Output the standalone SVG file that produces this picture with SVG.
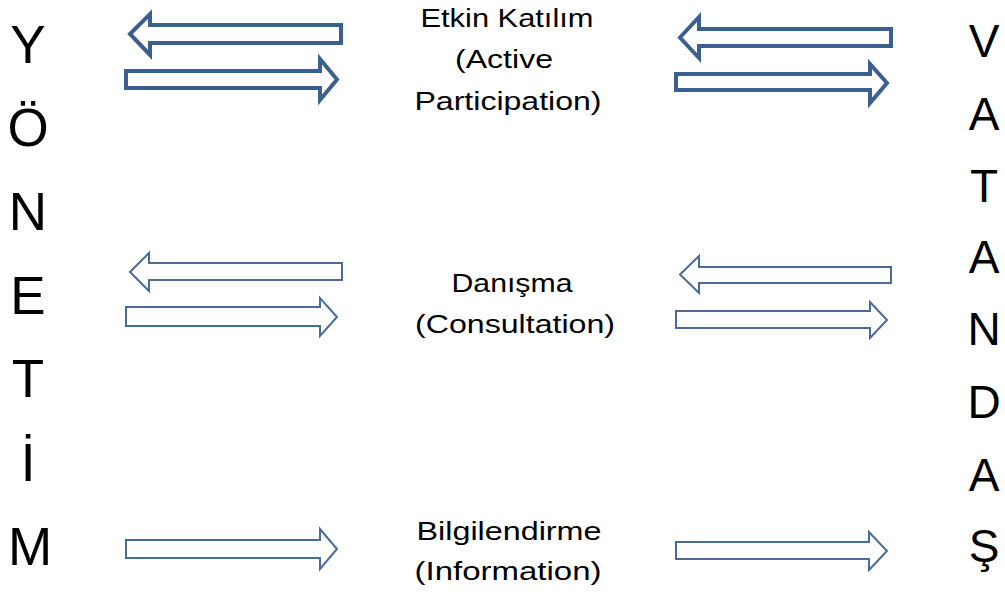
<svg xmlns="http://www.w3.org/2000/svg" width="1005" height="592" viewBox="0 0 1005 592">
<style>
.bg{fill:#ffffff}
.big{font-family:"Liberation Sans",Arial,sans-serif;fill:#000;text-anchor:middle}
.lbl{font-family:"Liberation Sans",Arial,sans-serif;font-size:26px;fill:#000;text-anchor:middle}
.thick{fill:#ffffff;stroke:#3b5f8e;stroke-width:4;stroke-linejoin:miter}
.thin{fill:#ffffff;stroke:#4a6b98;stroke-width:2;stroke-linejoin:miter}
</style>
<rect class="bg" x="0" y="0" width="1005" height="592"/>
<g id="yonetim" class="big" font-size="53">
<text x="28" y="63">Y</text>
<text x="28" y="146">Ö</text>
<text x="28" y="230">N</text>
<text x="28" y="314">E</text>
<text x="28" y="397">T</text>
<text x="28" y="481">İ</text>
<text x="30" y="565">M</text>
</g>
<g id="vatandas" class="big" font-size="46">
<text x="984" y="57">V</text>
<text x="984" y="130">A</text>
<text x="984" y="202">T</text>
<text x="984" y="273">A</text>
<text x="984" y="345">N</text>
<text x="984" y="418">D</text>
<text x="984" y="491">A</text>
<text x="984" y="562">Ş</text>
</g>
<g id="active-participation" class="lbl">
<text x="507" y="27" textLength="173" lengthAdjust="spacingAndGlyphs">Etkin Katılım</text>
<text x="504" y="68" textLength="98" lengthAdjust="spacingAndGlyphs">(Active</text>
<text x="508" y="110" textLength="187" lengthAdjust="spacingAndGlyphs">Participation)</text>
</g>
<g id="consultation" class="lbl">
<text x="512" y="292" textLength="121" lengthAdjust="spacingAndGlyphs">Danışma</text>
<text x="515" y="333" textLength="200" lengthAdjust="spacingAndGlyphs">(Consultation)</text>
</g>
<g id="information" class="lbl">
<text x="509" y="540" textLength="185" lengthAdjust="spacingAndGlyphs">Bilgilendirme</text>
<text x="508" y="580" textLength="187" lengthAdjust="spacingAndGlyphs">(Information)</text>
</g>
<g id="connectors">
<polygon class="thick" points="130,34 150,14 150,25 341,25 341,43 150,43 150,55"/>
<polygon class="thick" points="126,71 320,71 320,59 337,79.5 320,100 320,88 126,88"/>
<polygon class="thick" points="680,37.5 699,17 699,29 891,29 891,46 699,46 699,58"/>
<polygon class="thick" points="676,74 870,74 870,64 887,83 870,103 870,90 676,90"/>
<polygon class="thin" points="130,272 149,253 149,263 342,263 342,280 149,280 149,291"/>
<polygon class="thin" points="126,307 320,307 320,298 337,317 320,336 320,326 126,326"/>
<polygon class="thin" points="680,274.5 699,256 699,267 891,267 891,283 699,283 699,293"/>
<polygon class="thin" points="676,311 870,311 870,302 887,320 870,338 870,328 676,328"/>
<polygon class="thin" points="126,540 320,540 320,529 337,549 320,569 320,558 126,558"/>
<polygon class="thin" points="676,542 869,542 869,532 887,551 869,570 869,559 676,559"/>
</g>
</svg>
